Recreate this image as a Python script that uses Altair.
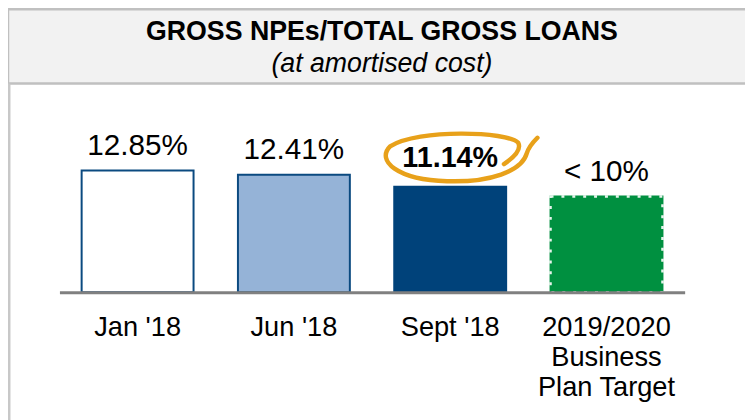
import altair as alt
import pandas as pd

categories = ["Jan '18", "Jun '18", "Sept '18", "2019/2020\nBusiness\nPlan Target"]
values = [12.85, 12.41, 11.14, 10.1]
labels = ["12.85%", "12.41%", "11.14%", "< 10%"]
fills = ["#FFFFFF", "#95B3D7", "#00427A", "#009040"]
strokes = ["#0B4A80", "#0B4A80", "#00427A", "#009040"]
bold = [False, False, True, False]
title_text = "GROSS NPEs/TOTAL GROSS LOANS"
subtitle_text = "(at amortised cost)"

df = pd.DataFrame({
    "cat": categories, "value": values, "label": labels,
    "fill": fills, "stroke": strokes, "bold": bold,
})

FONT = "Liberation Sans"
x_enc = alt.X("cat:N", sort=categories,
              scale=alt.Scale(paddingInner=0.284, paddingOuter=0.142),
              axis=alt.Axis(title=None, ticks=False, domainColor="#808080",
                            domainWidth=3, labelAngle=0, labelFontSize=27.5,
                            labelFont=FONT, labelColor="#000000",
                            labelPadding=22, labelLineHeight=30,
                            labelExpr="split(datum.label, '\\n')", zindex=1))
y_scale = alt.Scale(domain=[0, 29.78], nice=False, zero=True)
y_enc = alt.Y("value:Q", scale=y_scale, axis=None)
x_plain = alt.X("cat:N", sort=categories)

base = alt.Chart(df)

header = alt.Chart(pd.DataFrame({"a": [0]})).mark_rect(
    fill="#F2F2F2", stroke="#C0C0C0", strokeWidth=2.5
).encode(x=alt.value(-52), x2=alt.value(720), y=alt.value(-1), y2=alt.value(74))

left_border = alt.Chart(pd.DataFrame({"a": [0]})).mark_rule(
    color="#C8C8C8", strokeWidth=3
).encode(x=alt.value(-51), y=alt.value(74), y2=alt.value(430))

title = alt.Chart(pd.DataFrame({"t": [title_text]})).mark_text(
    font=FONT, fontSize=27, fontWeight="bold", color="#000000",
    align="center", baseline="middle"
).encode(x=alt.value(326), y=alt.value(22), text="t:N")

subtitle = alt.Chart(pd.DataFrame({"t": [subtitle_text]})).mark_text(
    font=FONT, fontSize=27, fontStyle="italic", color="#000000",
    align="center", baseline="middle"
).encode(x=alt.value(326), y=alt.value(54), text="t:N")

bars = base.mark_bar(strokeWidth=2).encode(
    x=x_enc, y=y_enc,
    fill=alt.Fill("fill:N", scale=None),
    stroke=alt.Stroke("stroke:N", scale=None),
)
target_dash = base.transform_filter("datum.label == '< 10%'").mark_bar(
    fill="transparent", stroke="#FFFFFF", strokeWidth=2.5, strokeDash=[3, 8],
    strokeOpacity=0.9
).encode(x=x_plain, y=y_enc)

ellipse_path = ("M 0.7 0.1 C 0.85 0.0 0.95 -0.1 0.9 -0.2 "
                "C 0.75 -0.36 -0.5 -0.4 -0.9 -0.15 "
                "C -1.1 0.05 -0.8 0.32 -0.1 0.34 "
                "C 0.5 0.36 0.95 0.2 1.02 -0.05 "
                "C 1.05 -0.15 1.12 -0.22 1.17 -0.27")
ellipse = base.transform_filter("datum.bold").mark_point(
    shape=ellipse_path, size=20700, filled=False, stroke="#E8A11A",
    strokeWidth=4.5, opacity=1, yOffset=-30, xOffset=4,
    strokeCap="round", strokeJoin="round"
).encode(x=x_plain, y=y_enc)

text_normal = base.transform_filter("!datum.bold").mark_text(
    font=FONT, fontSize=30, color="#000000", baseline="alphabetic", dy=-16
).encode(x=x_plain, y=y_enc, text="label:N")
text_bold = base.transform_filter("datum.bold").mark_text(
    font=FONT, fontSize=29, fontWeight="bold", color="#000000",
    baseline="alphabetic", dy=-20
).encode(x=x_plain, y=y_enc, text="label:N")

chart = alt.layer(
    header, left_border, title, subtitle, bars, target_dash, ellipse,
    text_normal, text_bold
).properties(
    width=632, height=285,
    padding={"left": 52, "top": 0, "right": 61, "bottom": 127},
    autosize=alt.AutoSizeParams(type="none"),
).configure_view(strokeWidth=0)

chart.save("out.html", embed_options={"renderer": "svg", "actions": False})
